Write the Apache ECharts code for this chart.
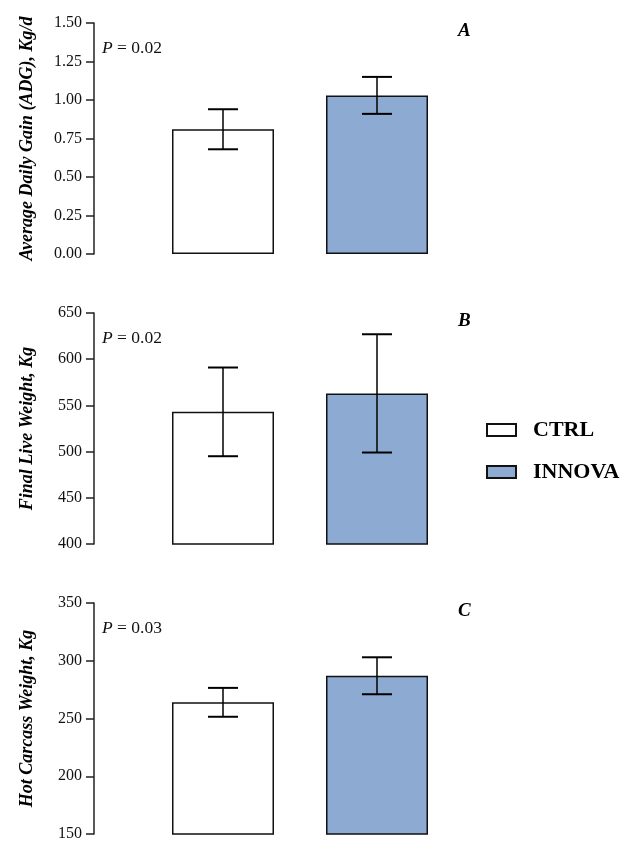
<!DOCTYPE html>
<html>
<head>
<meta charset="utf-8">
<script src="https://cdn.jsdelivr.net/npm/echarts@6/dist/echarts.min.js"></script>
<style>html,body{margin:0;padding:0;background:#fff;}#c{width:626px;height:855px;}</style>
</head>
<body>
<div id="c"></div>
<script>
const groups = ['CTRL', 'INNOVA'];
const panelLetters = ['A', 'B', 'C'];
const yTitles = ['Average Daily Gain (ADG), Kg/d', 'Final Live Weight, Kg', 'Hot Carcass Weight, Kg'];
const pTexts = ['0.02', '0.02', '0.03'];
const yMin = [0, 400, 150];
const yMax = [1.5, 650, 350];
const yStep = [0.25, 50, 50];
const yDecimals = [2, 0, 0];
const ctrlMean = [0.81, 543, 264];
const ctrlErr = [0.13, 48, 12.5];
const innovaMean = [1.03, 563, 287];
const innovaErr = [0.12, 64, 16];

const FONT = "'Liberation Serif', 'Times New Roman', serif";
const tops = [23, 313, 603];
const PH = 231;
const colors = { CTRL: '#ffffff', INNOVA: '#8DAAD3' };

const grid = [], xAxis = [], yAxis = [], series = [], title = [];
for (let i = 0; i < 3; i++) {
  grid.push({ left: 146, width: 308, top: tops[i], height: PH, containLabel: false });
  xAxis.push({ type: 'category', gridIndex: i, data: groups, show: false });
  const dec = yDecimals[i];
  yAxis.push({
    type: 'value', gridIndex: i, min: yMin[i], max: yMax[i], interval: yStep[i],
    offset: 52,
    name: yTitles[i], nameLocation: 'middle', nameRotate: 90, nameGap: 58,
    nameTextStyle: { fontFamily: FONT, fontSize: 18, fontWeight: 'bold', fontStyle: 'italic', color: '#000' },
    axisLine: { show: true, lineStyle: { color: '#222', width: 1.5 } },
    axisTick: { show: true, length: 8, lineStyle: { color: '#222', width: 1.5 } },
    axisLabel: { fontFamily: FONT, fontSize: 16, color: '#111', margin: 12, formatter: v => v.toFixed(dec) },
    splitLine: { show: false }
  });
  series.push({
    name: 'CTRL', type: 'bar', xAxisIndex: i, yAxisIndex: i, barWidth: 102, barGap: '-100%',
    data: [ctrlMean[i], '-'],
    itemStyle: { color: colors.CTRL, borderColor: '#111', borderWidth: 1.5 },
    emphasis: { disabled: true }
  });
  series.push({
    name: 'INNOVA', type: 'bar', xAxisIndex: i, yAxisIndex: i, barWidth: 102, barGap: '-100%',
    data: ['-', innovaMean[i]],
    itemStyle: { color: colors.INNOVA, borderColor: '#111', borderWidth: 1.5 },
    emphasis: { disabled: true }
  });
  series.push({
    type: 'custom', xAxisIndex: i, yAxisIndex: i, z: 10,
    data: [[0, ctrlMean[i], ctrlErr[i]], [1, innovaMean[i], innovaErr[i]]],
    encode: { x: 0, y: 1 },
    renderItem: function (params, api) {
      const x = api.value(0), m = api.value(1), e = api.value(2);
      const t = api.coord([x, m + e]);
      const b = api.coord([x, m - e]);
      const hw = 15;
      const st = { stroke: '#000', lineWidth: 1.5 };
      const cs = { stroke: '#000', lineWidth: 2 };
      return {
        type: 'group',
        children: [
          { type: 'line', shape: { x1: t[0], y1: t[1], x2: b[0], y2: b[1] }, style: st },
          { type: 'line', shape: { x1: t[0] - hw, y1: t[1], x2: t[0] + hw, y2: t[1] }, style: cs },
          { type: 'line', shape: { x1: b[0] - hw, y1: b[1], x2: b[0] + hw, y2: b[1] }, style: cs }
        ]
      };
    }
  });
  title.push({
    text: '{i|P} = ' + pTexts[i], left: 102, top: tops[i] + 16,
    textStyle: { fontFamily: FONT, fontSize: 17.5, fontWeight: 'normal', color: '#111',
      rich: { i: { fontFamily: FONT, fontSize: 17.5, fontStyle: 'italic', color: '#111' } } },
    padding: 0
  });
  title.push({
    text: panelLetters[i], left: 458, top: tops[i] - 1, padding: 0,
    textStyle: { fontFamily: FONT, fontSize: 19, fontWeight: 'bold', fontStyle: 'italic', color: '#000' }
  });
}

const chart = echarts.init(document.getElementById('c'));
chart.setOption({
  backgroundColor: '#fff',
  animation: false,
  title: title,
  legend: {
    data: groups, orient: 'vertical', left: 486, top: 419, padding: 0,
    itemWidth: 29, itemHeight: 12, itemGap: 20,
    icon: 'rect',
    textStyle: { fontFamily: FONT, fontSize: 22, fontWeight: 'bold', color: '#000', padding: [0, 0, 0, 12] }
  },
  grid: grid,
  xAxis: xAxis,
  yAxis: yAxis,
  series: series
});
</script>
</body>
</html>
